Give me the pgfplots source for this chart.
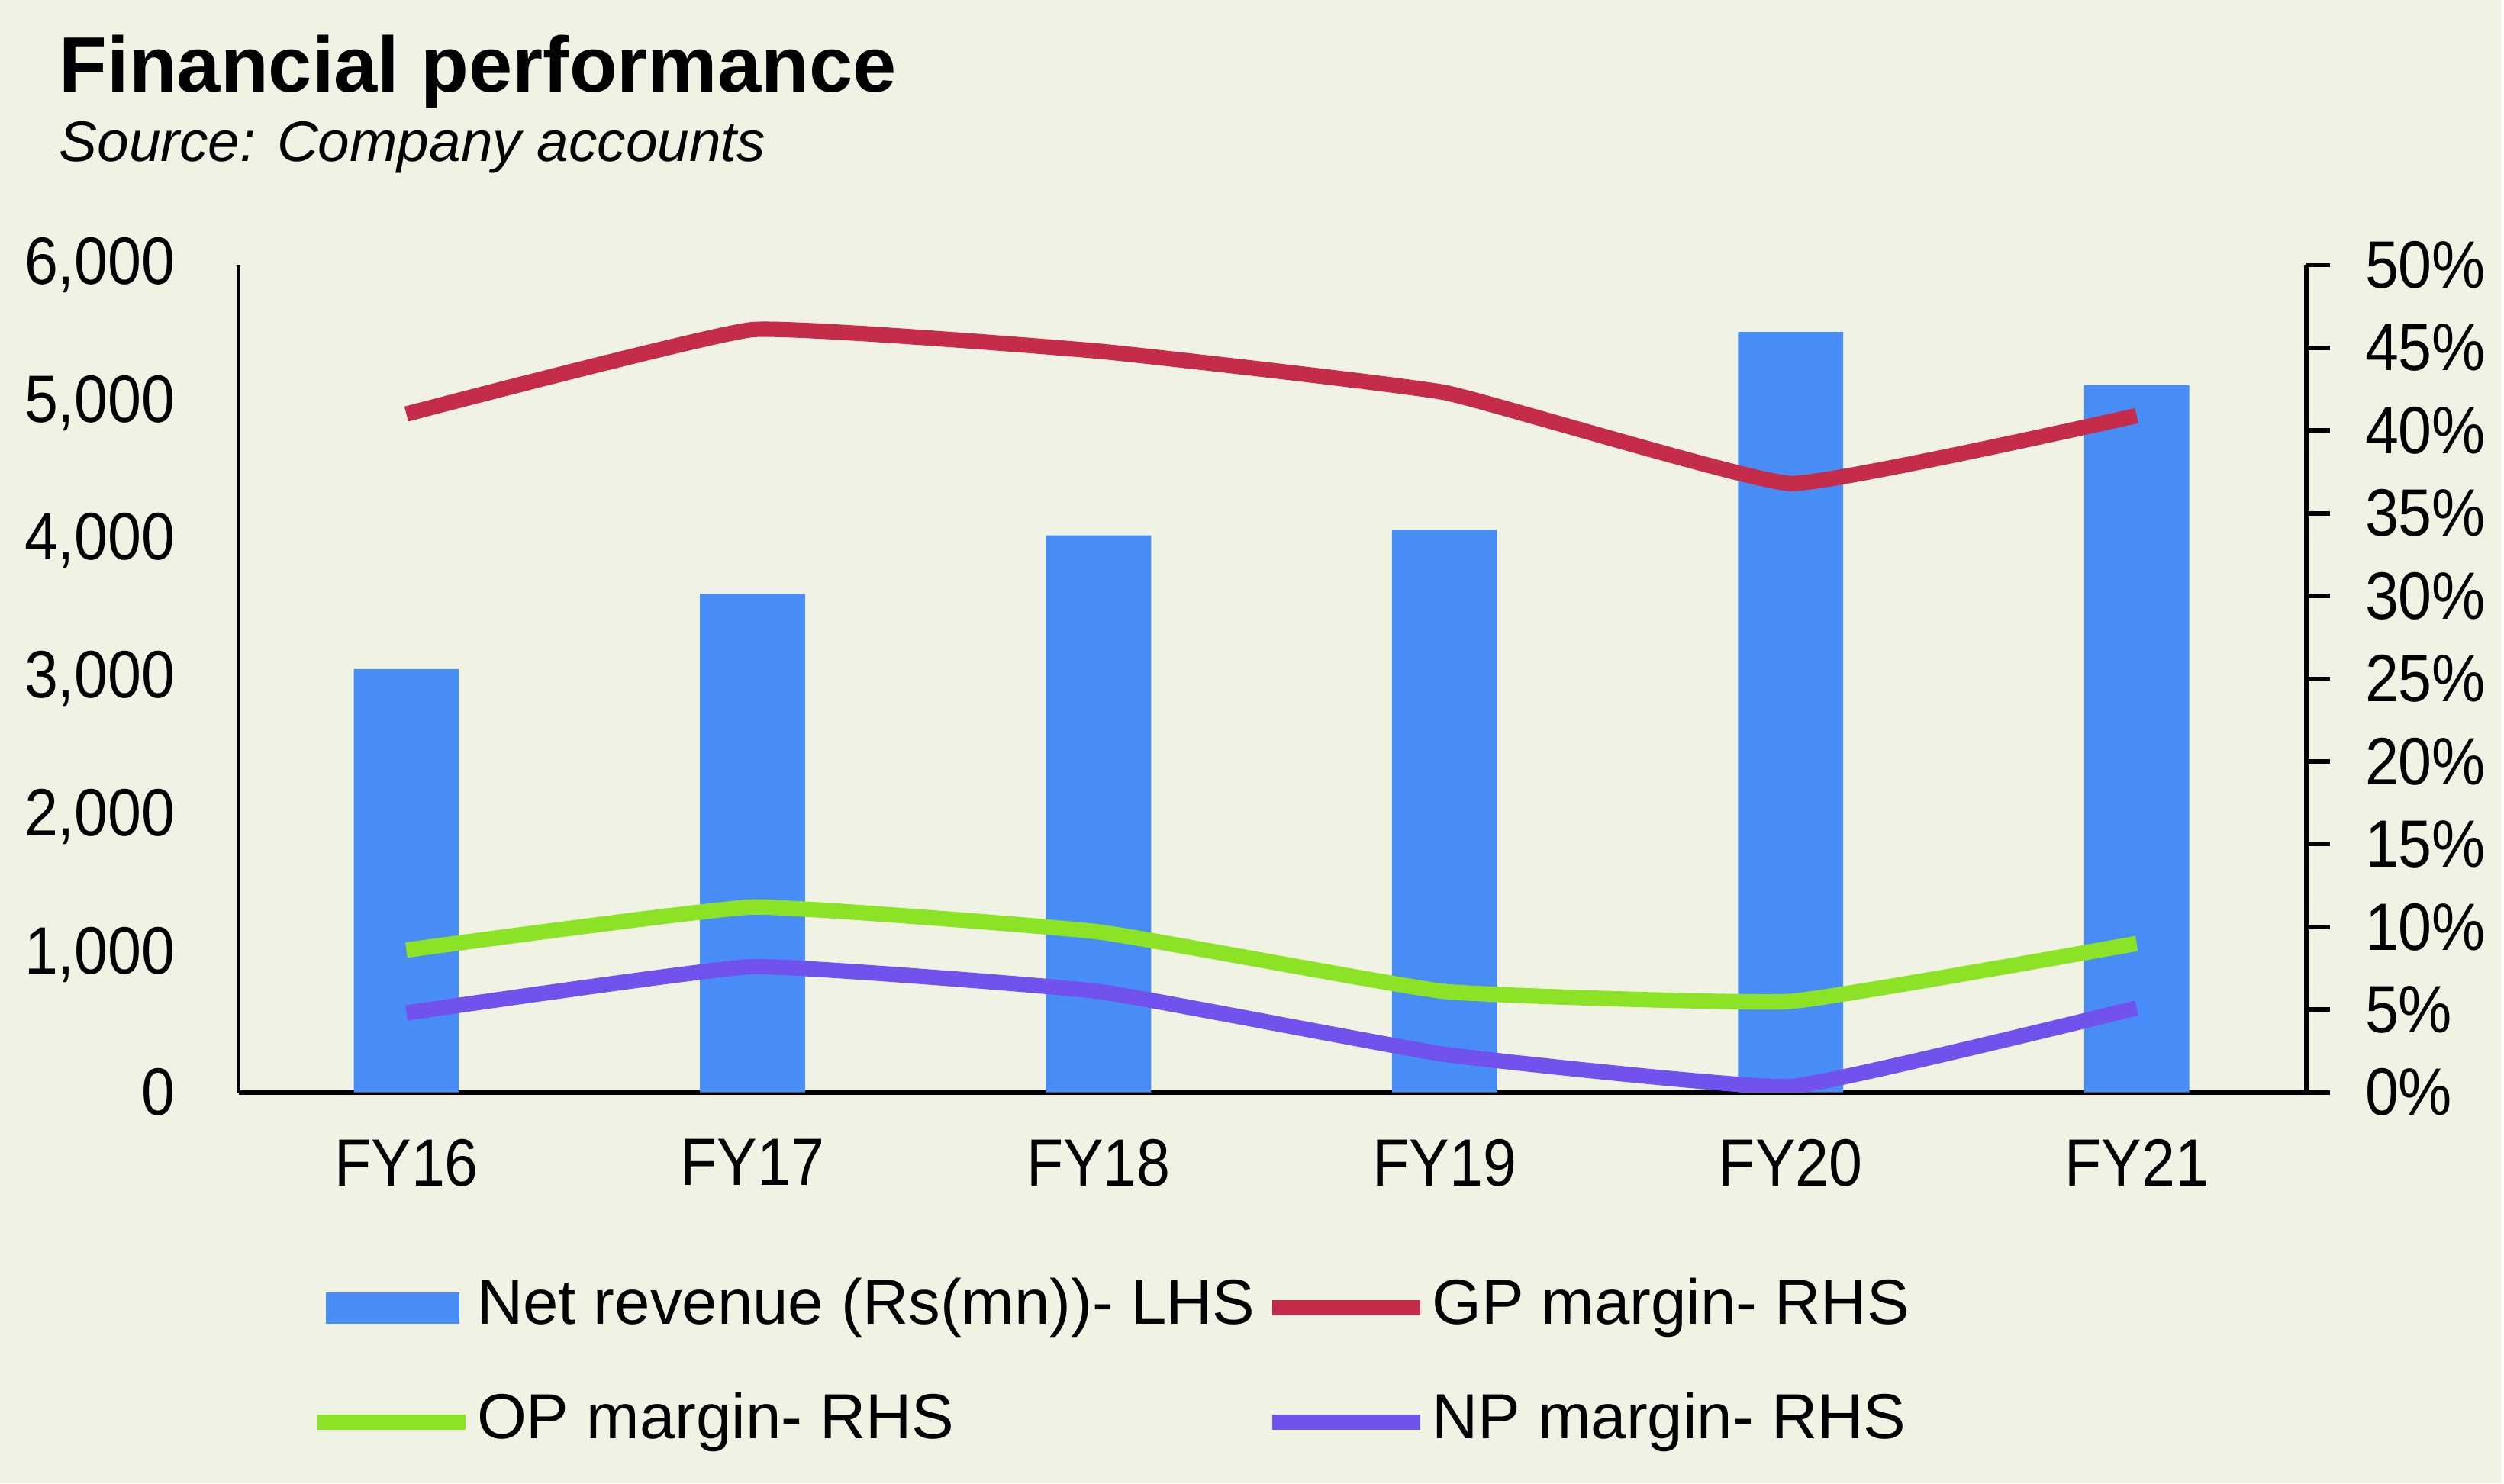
\documentclass[border=0pt]{standalone}
\usepackage{pgfplots}
\pgfplotsset{compat=1.18}
\usepackage{fontspec}
\setmainfont{Liberation Sans}
\newfontfamily\tickfont{Liberation Sans}[FakeStretch=0.9]
\definecolor{bgc}{RGB}{240,243,228}
\definecolor{barblue}{RGB}{72,141,245}
\definecolor{gpred}{RGB}{196,44,74}
\definecolor{opgreen}{RGB}{140,226,36}
\definecolor{nppurple}{RGB}{114,82,236}

\begin{document}
\begin{tikzpicture}[x=1pt,y=1pt]
\fill[bgc] (0,0) rectangle (455.69,270.42);
\node[anchor=base west, inner sep=0pt, font=\fontsize{14.3}{16}\selectfont\bfseries] at (10.6,253.6) {Financial performance};
\node[anchor=base west, inner sep=0pt, font=\fontsize{10.4}{12}\selectfont\itshape] at (10.6,241.0) {Source: Company accounts};

\begin{axis}[
  at={(43.47pt,71.3pt)}, anchor=south west,
  scale only axis, width=376.8pt, height=150.8pt,
  xmin=-0.485, xmax=5.49, ymin=0, ymax=6000,
  axis x line*=bottom, axis y line*=left,
  axis line style={line width=0.8pt, black},
  xtick={0,1,2,3,4,5},
  xticklabels={FY16,FY17,FY18,FY19,FY20,FY21},
  ytick={0,1000,2000,3000,4000,5000,6000},
  yticklabels={0,{1,000},{2,000},{3,000},{4,000},{5,000},{6,000}},
  tick style={draw=none},
  ticklabel style={font=\tickfont\fontsize{12.2}{14}\selectfont},
  xticklabel style={yshift=-0.7pt},
  yticklabel style={xshift=-8pt},
  ybar, bar width=0.304,
]
\addplot[fill=barblue, draw=none, bar shift=0pt] coordinates {(0,3070) (1,3615) (2,4040) (3,4080) (4,5515) (5,5130)};
\end{axis}

\begin{axis}[
  at={(43.47pt,71.3pt)}, anchor=south west,
  scale only axis, width=376.8pt, height=150.8pt,
  xmin=-0.485, xmax=5.49, ymin=0, ymax=50,
  axis x line=none, axis y line*=right,
  axis line style={line width=0.8pt, black},
  ytick={0,5,10,15,20,25,30,35,40,45,50},
  yticklabels={0\%,5\%,10\%,15\%,20\%,25\%,30\%,35\%,40\%,45\%,50\%},
  tick align=outside, major tick length=4.3pt,
  tick style={line width=0.8pt, black},
  yticklabel style={font=\tickfont\fontsize{12.2}{14}\selectfont, xshift=2.9pt},
  legend image code/.code={\draw[#1, line width=2.8pt] (0pt,0pt) -- (27pt,0pt);},
  legend columns=2,
  legend cell align=left,
  legend style={at={(0.0344,-0.1917)}, anchor=north west, draw=none, fill=none,
    inner sep=0pt, outer sep=0pt, font=\fontsize{11.6}{14}\selectfont,
    row sep=0pt,
    nodes={inner xsep=0.7pt, inner ysep=4.8pt, text height=8.6pt, text depth=2.6pt},
    /tikz/every even column/.append style={column sep=1.0pt}},
]
\addlegendimage{legend image code/.code={\fill[barblue, draw=none] (1.6pt,-2.85pt) rectangle (25.9pt,2.85pt); \path[draw=none, fill=none] (0pt,0pt) -- (27pt,0pt);}}
\addlegendentry{Net revenue (Rs(mn))- LHS}
\addplot[gpred, line width=2.8pt, smooth, tension=0.2] coordinates {(0,41.0) (1,46.1) (2,44.8) (3,42.3) (4,36.8) (5,40.9)};
\addlegendentry{GP margin- RHS}
\addplot[opgreen, line width=2.8pt, smooth, tension=0.2] coordinates {(0,8.6) (1,11.2) (2,9.7) (3,6.1) (4,5.5) (5,9.0)};
\addlegendentry{OP margin- RHS}
\addplot[nppurple, line width=2.8pt, smooth, tension=0.2] coordinates {(0,4.8) (1,7.6) (2,6.1) (3,2.3) (4,0.35) (5,5.1)};
\addlegendentry{NP margin- RHS}
\end{axis}
\end{tikzpicture}
\end{document}
